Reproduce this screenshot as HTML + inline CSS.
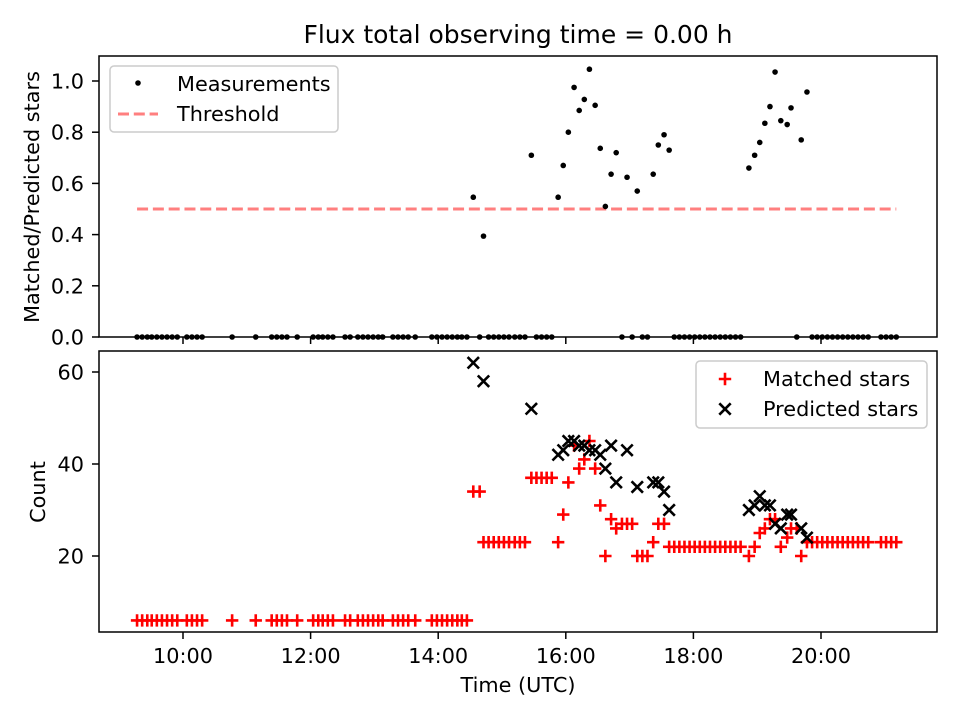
<!DOCTYPE html>
<html><head><meta charset="utf-8"><style>
body{margin:0;background:#fff}
svg text{font-family:"DejaVu Sans","Liberation Sans",sans-serif;fill:#000}
</style></head><body>
<svg id="fig" width="960" height="720" xmlns="http://www.w3.org/2000/svg">
<rect width="960" height="720" fill="#fff"/>
<text x="518" y="43" font-size="25" text-anchor="middle">Flux total observing time = 0.00 h</text>
<g id="topPanel"></g>
<g id="botPanel"></g>
<text transform="translate(39,197) rotate(-90)" font-size="20.8" text-anchor="middle">Matched/Predicted stars</text>
<text transform="translate(45,492) rotate(-90)" font-size="20.8" text-anchor="middle">Count</text>
<text x="518" y="692" font-size="20.8" text-anchor="middle">Time (UTC)</text>
</svg>
<script>
const times = [9.28,9.36,9.44,9.51,9.59,9.67,9.75,9.83,9.91,10.06,10.14,10.22,10.30,10.77,11.14,11.39,11.47,11.55,11.63,11.79,12.04,12.12,12.19,12.27,12.35,12.54,12.62,12.74,12.82,12.90,12.98,13.06,13.13,13.29,13.37,13.45,13.53,13.64,13.90,13.98,14.06,14.14,14.22,14.30,14.37,14.45,
14.55,14.65,14.71,14.79,14.87,14.95,15.03,15.11,15.20,15.28,15.36,15.46,15.54,15.62,15.70,15.78,15.88,15.96,16.04,16.13,16.21,16.29,16.37,16.46,16.54,16.62,16.71,16.79,16.88,16.96,17.04,17.12,17.20,17.28,17.37,17.45,17.54,17.62,
17.70,17.78,17.86,17.94,18.02,18.10,18.18,18.26,18.34,18.42,18.50,18.58,18.66,18.74,18.87,18.96,19.04,19.12,19.20,19.28,19.37,19.47,19.53,19.62,19.69,19.78,
19.86,19.94,20.02,20.10,20.18,20.26,20.34,20.42,20.50,20.58,20.66,20.74,20.94,21.02,21.10,21.18];
const matched = [6,6,6,6,6,6,6,6,6,6,6,6,6,6,6,6,6,6,6,6,6,6,6,6,6,6,6,6,6,6,6,6,6,6,6,6,6,6,6,6,6,6,6,6,6,6,
34,34,23,23,23,23,23,23,23,23,23,37,37,37,37,37,23,29,36,44,39,41,45,39,31,20,28,26,27,27,27,20,20,20,23,27,27,22,
22,22,22,22,22,22,22,22,22,22,22,22,22,22,20,22,25,26,28,28,22,24,26,26,20,23,
23,23,23,23,23,23,23,23,23,23,23,23,23,23,23,23];
const predicted = [null,null,null,null,null,null,null,null,null,null,null,null,null,null,null,null,null,null,null,null,null,null,null,null,null,null,null,null,null,null,null,null,null,null,null,null,null,null,null,null,null,null,null,null,null,null,
62,null,58,null,null,null,null,null,null,null,null,52,null,null,null,null,42,43,45,45,44,44,43,43,42,39,44,36,null,43,null,35,null,null,36,36,34,30,
null,null,null,null,null,null,null,null,null,null,null,null,null,null,30,31,33,31,31,27,26,29,29,null,26,24,
null,null,null,null,null,null,null,null,null,null,null,null,null,null,null,null];
const ratio = [0,0,0,0,0,0,0,0,0,0,0,0,0,0,0,0,0,0,0,0,0,0,0,0,0,0,0,0,0,0,0,0,0,0,0,0,0,0,0,0,0,0,0,0,0,0,
0.546,0,0.394,0,0,0,0,0,0,0,0,0.71,0,0,0,0,0.546,0.67,0.80,0.975,0.885,0.928,1.046,0.905,0.737,0.51,0.636,0.72,0,0.624,0,0.57,0,0,0.636,0.75,0.79,0.73,
0,0,0,0,0,0,0,0,0,0,0,0,0,0,0.66,0.71,0.76,0.835,0.90,1.035,0.845,0.83,0.895,0,0.77,0.957,
0,0,0,0,0,0,0,0,0,0,0,0,0,0,0,0];
const threshold = 0.5;
const xTickHours = [10,12,14,16,18,20];
const xTickLabels = ["10:00","12:00","14:00","16:00","18:00","20:00"];
const topTicks = [0,0.2,0.4,0.6,0.8,1.0];
const topTickLabels = ["0.0","0.2","0.4","0.6","0.8","1.0"];
const botTicks = [20,40,60];
const botTickLabels = ["20","40","60"];

const NS="http://www.w3.org/2000/svg";
const L=99,R=937,FS=20.8,M=6.2,MW=2.6;
const X=h=>183+(h-10)*63.8;
const Yt=v=>337-v*256;
const Yb=v=>556-(v-20)*4.6;
function mk(tag,attrs,parent){const e=document.createElementNS(NS,tag);for(const k in attrs)e.setAttribute(k,attrs[k]);parent.appendChild(e);return e;}
const topG=document.getElementById('topPanel'),botG=document.getElementById('botPanel');

let th=mk('line',{x1:X(9.28),x2:X(21.18),y1:Yt(threshold),y2:Yt(threshold),stroke:'#ff7f7f','stroke-width':3,'stroke-dasharray':'11,4.8'},topG);


times.forEach((t,i)=>{
  const c=mk('circle',{cx:X(t),cy:Yt(ratio[i]),r:2.8,fill:'#000'},topG);
  
  
});
times.forEach((t,i)=>{
  const x=X(t),y=Yb(matched[i]);
  const g=mk('path',{d:`M${x-M},${y}H${x+M}M${x},${y-M}V${y+M}`,stroke:'#f00','stroke-width':MW},botG);
  
  
});
times.forEach((t,i)=>{
  if(predicted[i]==null)return;
  const x=X(t),y=Yb(predicted[i]),m=M-0.5;
  const g=mk('path',{d:`M${x-m},${y-m}L${x+m},${y+m}M${x-m},${y+m}L${x+m},${y-m}`,stroke:'#000','stroke-width':MW},botG);
  
  
});
const f1=mk('rect',{x:L,y:56,width:R-L,height:281,fill:'none',stroke:'#000','stroke-width':1.5},topG);


const f2=mk('rect',{x:L,y:351,width:R-L,height:281,fill:'none',stroke:'#000','stroke-width':1.5},botG);


xTickHours.forEach((h,i)=>{
  const x=X(h);
  mk('line',{x1:x,x2:x,y1:337,y2:344,stroke:'#000','stroke-width':1.5},topG);
  mk('line',{x1:x,x2:x,y1:632,y2:639,stroke:'#000','stroke-width':1.5},botG);
  const t=mk('text',{x:x,y:663,'font-size':FS,'text-anchor':'middle'},botG);
  t.textContent=xTickLabels[i];
  
  
});
topTicks.forEach((v,i)=>{
  const y=Yt(v);
  mk('line',{x1:L-7,x2:L,y1:y,y2:y,stroke:'#000','stroke-width':1.5},topG);
  const t=mk('text',{x:L-15,y:y+7.5,'font-size':FS,'text-anchor':'end'},topG);
  t.textContent=topTickLabels[i];
  
  
});
botTicks.forEach((v,i)=>{
  const y=Yb(v);
  mk('line',{x1:L-7,x2:L,y1:y,y2:y,stroke:'#000','stroke-width':1.5},botG);
  const t=mk('text',{x:L-15,y:y+7.5,'font-size':FS,'text-anchor':'end'},botG);
  t.textContent=botTickLabels[i];
  
  
});
const lg1=mk('g',{},topG);


mk('rect',{x:110,y:66,width:228,height:66,rx:4,fill:'#fff',stroke:'#ccc','stroke-width':1.5},lg1);
mk('circle',{cx:138,cy:83,r:2.8,fill:'#000'},lg1);
let lt=mk('text',{x:177,y:91,'font-size':FS},lg1);lt.textContent='Measurements';
mk('line',{x1:118,x2:158,y1:114,y2:114,stroke:'#ff7f7f','stroke-width':3,'stroke-dasharray':'11,4.8'},lg1);
lt=mk('text',{x:177,y:121,'font-size':FS},lg1);lt.textContent='Threshold';
const lg2=mk('g',{},botG);


mk('rect',{x:696,y:361,width:231,height:67,rx:4,fill:'#fff',stroke:'#ccc','stroke-width':1.5},lg2);
mk('path',{d:`M${725-M},379H${725+M}M725,${379-M}V${379+M}`,stroke:'#f00','stroke-width':MW},lg2);
lt=mk('text',{x:763,y:386,'font-size':FS},lg2);lt.textContent='Matched stars';
mk('path',{d:'M719.3,403.3L730.7,414.7M719.3,414.7L730.7,403.3',stroke:'#000','stroke-width':MW},lg2);
lt=mk('text',{x:763,y:416,'font-size':FS},lg2);lt.textContent='Predicted stars';
</script>
</body></html>
